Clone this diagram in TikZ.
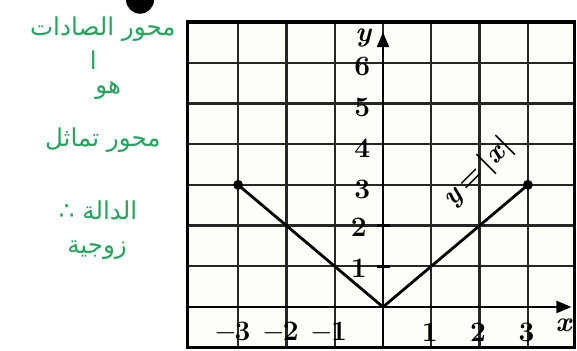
\documentclass[tikz,border=0pt]{standalone}
\usepackage{fontspec}
\usepackage{amsmath}
\newfontfamily\arabicfont[Script=Arabic]{DejaVu Sans}
\TeXXeTstate=1
\usepackage{tikz}
\usetikzlibrary{arrows}
\definecolor{pen}{RGB}{35,165,95}
\tikzstyle{note} = [text=pen, font=\arabicfont\fontsize{21}{25}\selectfont, inner sep=1pt]
\tikzstyle{num} = [font=\fontsize{24}{28}\selectfont\bfseries, inner sep=1pt]
\tikzstyle{gridline} = [line width=2pt, black!85]
\tikzstyle{curve} = [line width=2.4pt]
\tikzstyle{axis} = [line width=2pt,-triangle 45]
\tikzstyle{dot} = [circle, fill=black, inner sep=0pt, minimum size=8.5pt]

\begin{document}
\begin{tikzpicture}[x=1.449cm,y=1.221cm]
            \useasboundingbox (-7.93,-1.081) rectangle (4.017,7.543);
            % cut-off bullet of the line above
            \fill (-5.03,7.55) circle (0.42cm);
            % grid
            \fill[yellow!2] (-4.05,-1) rectangle (3.97,7);
            \foreach \i in {-3,...,3} \draw[gridline] (\i,-1) -- (\i,7);
            \foreach \j in {1,...,6} \draw[gridline] (-4.05,\j) -- (3.97,\j);
            \draw[line width=3pt] (-4.05,-1) rectangle (3.97,7);
            % axes
            \coordinate (xstart) at (-4.05,0);
            \coordinate (xend) at (3.9,0);
            \coordinate (ystart) at (0,-1);
            \coordinate (yend) at (0,6.75);
            \draw[axis] (xstart) -- (xend);
            \draw[axis] (ystart) -- (yend);
            \node[num] (ylab) at (-0.4,6.62) {\textit{y}};
            \node[num] (xlab) at (3.75,-0.44) {\textit{x}};
            \foreach \j in {3,...,6} \node[num] (y\j) at (-0.43,\j-0.1) {\j};
            \foreach \j in {1,2} {
                \node[num] (y\j) at (-0.5,\j-0.05) {\j};
                \draw[line width=2.2pt] (-0.13,\j) -- (0.14,\j);
            }
            \foreach \i in {1,2,3} \node[num] (x\i) at (\i-0.03,-0.62) {\i};
            \node[num] (xm3) at (-3.12,-0.62) {$-$\kern-2pt3};
            \node[num] (xm2) at (-2.12,-0.62) {$-$\kern-2pt2};
            \node[num] (xm1) at (-1.12,-0.62) {$-$\kern-2pt1};
            % y = |x|
            \coordinate (lft) at (-3,3);
            \coordinate (orig) at (0,0);
            \coordinate (rgt) at (3,3);
            \draw[curve] (lft) -- (orig) -- (rgt);
            \node[dot] (plft) at (lft) {};
            \node[dot] (prgt) at (rgt) {};
            \node[num,rotate=45] (flab) at (1.97,3.3) {\textit{y}\,=\,|\textit{x}|};
            % handwritten notes
            \node[note] (yaxis) at (-5.80,6.82) {\beginR محور الصادات\endR};
            \node[note] (alif) at (-6.0,6.07) {\beginR ا\endR};
            \node[note] (huwa) at (-5.69,5.33) {\beginR هو\endR};
            \node[note] (symm) at (-5.80,4.10) {\beginR محور تماثل\endR};
            \node[note] (func) at (-5.90,2.38) {\beginR الدالة ∴\endR};
            \node[note] (even) at (-5.92,1.40) {\beginR زوجية\endR};
\end{tikzpicture}
\end{document}
